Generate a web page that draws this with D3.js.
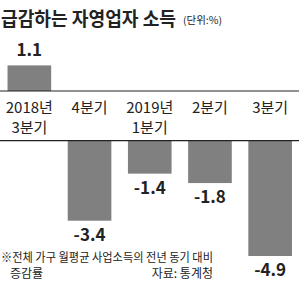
<!DOCTYPE html>
<html>
<head>
<meta charset="utf-8">
<script src="https://cdn.jsdelivr.net/npm/d3@7"></script>
<style>
  body { margin: 0; background: #fff; }
  text { font-family: "Liberation Sans Narrow", "Noto Sans CJK KR", sans-serif; fill: #222; }
</style>
</head>
<body>
<div id="chart"></div>
<script>
// Data
const quarters = ["2018년|3분기", "4분기", "2019년|1분기", "2분기", "3분기"];
const growth = [1.1, -3.4, -1.4, -1.8, -4.9];
const titleText = "급감하는 자영업자 소득";
const unitText = "(단위:%)";
const noteLines = ["※전체 가구 월평균 사업소득의 전년 동기 대비", "증감률"];
const sourceText = "자료: 통계청";

const data = quarters.map((q, i) => ({ quarter: q, value: growth[i] }));

const width = 300, height = 294;
const posBase = 91;     // axis line for positive bars
const negBase = 140.7;  // axis line for negative bars, below the quarter labels

const svg = d3.select("#chart")
    .append("svg")
    .attr("width", width)
    .attr("height", height);

// x scale for quarters
const x = d3.scaleBand()
    .domain(quarters)
    .range([0, 299.5])
    .paddingInner(0.275)
    .paddingOuter(0.125);

// positive values grow up from the upper line
const yPos = d3.scaleLinear()
    .domain([0, 1.1])
    .range([posBase, posBase - 25.6]);

// negative values hang from the lower line
const yNeg = d3.scaleLinear()
    .domain([0, -4.9])
    .range([negBase, 256]);

const fmt = v => (v < 0 ? "-" : "") + d3.format(".1f")(Math.abs(v));

// Bars
svg.selectAll(".bar")
    .data(data)
    .enter()
    .append("rect")
    .attr("class", "bar")
    .attr("x", d => x(d.quarter))
    .attr("width", x.bandwidth())
    .attr("y", d => d.value >= 0 ? yPos(d.value) : yNeg(0))
    .attr("height", d => d.value >= 0 ? yPos(0) - yPos(d.value) : yNeg(d.value) - yNeg(0))
    .attr("fill", "#808080");

// Axis lines
[posBase, negBase].forEach(yy => {
    svg.append("line")
        .attr("x1", 0)
        .attr("x2", 299)
        .attr("y1", yy)
        .attr("y2", yy)
        .attr("stroke", "#222")
        .attr("stroke-width", 1.2);
});

// Category labels
const cat = svg.selectAll(".cat")
    .data(data)
    .enter()
    .append("text")
    .attr("class", "cat")
    .attr("text-anchor", "middle")
    .style("font-size", "15px");

cat.selectAll("tspan")
    .data(d => d.quarter.split("|").map(t => ({ t, cx: x(d.quarter) + x.bandwidth() / 2 })))
    .enter()
    .append("tspan")
    .attr("x", d => d.cx)
    .attr("y", (d, i) => 113 + i * 20)
    .text(d => d.t);

// Value labels
svg.selectAll(".val")
    .data(data)
    .enter()
    .append("text")
    .attr("class", "val")
    .attr("x", d => x(d.quarter) + x.bandwidth() / 2)
    .attr("y", d => d.value >= 0 ? yPos(d.value) - 9 : yNeg(d.value) + 20)
    .attr("text-anchor", "middle")
    .style("font-size", "17px")
    .style("font-weight", "bold")
    .text(d => fmt(d.value));

// Title
svg.append("text")
    .attr("x", 1)
    .attr("y", 26)
    .attr("textLength", 175)
    .attr("lengthAdjust", "spacingAndGlyphs")
    .style("font-size", "19px")
    .style("font-weight", "bold")
    .text(titleText);

svg.append("text")
    .attr("x", 183)
    .attr("y", 24)
    .attr("textLength", 39)
    .attr("lengthAdjust", "spacingAndGlyphs")
    .style("font-size", "10px")
    .text(unitText);

// Footnote and source
svg.append("text")
    .attr("x", 1)
    .attr("y", 262)
    .attr("textLength", 212)
    .attr("lengthAdjust", "spacingAndGlyphs")
    .style("font-size", "12px")
    .text(noteLines[0]);

svg.append("text")
    .attr("x", 10)
    .attr("y", 278)
    .style("font-size", "12px")
    .text(noteLines[1]);

svg.append("text")
    .attr("x", 213)
    .attr("y", 278)
    .attr("text-anchor", "end")
    .style("font-size", "12px")
    .text(sourceText);
</script>
</body>
</html>
